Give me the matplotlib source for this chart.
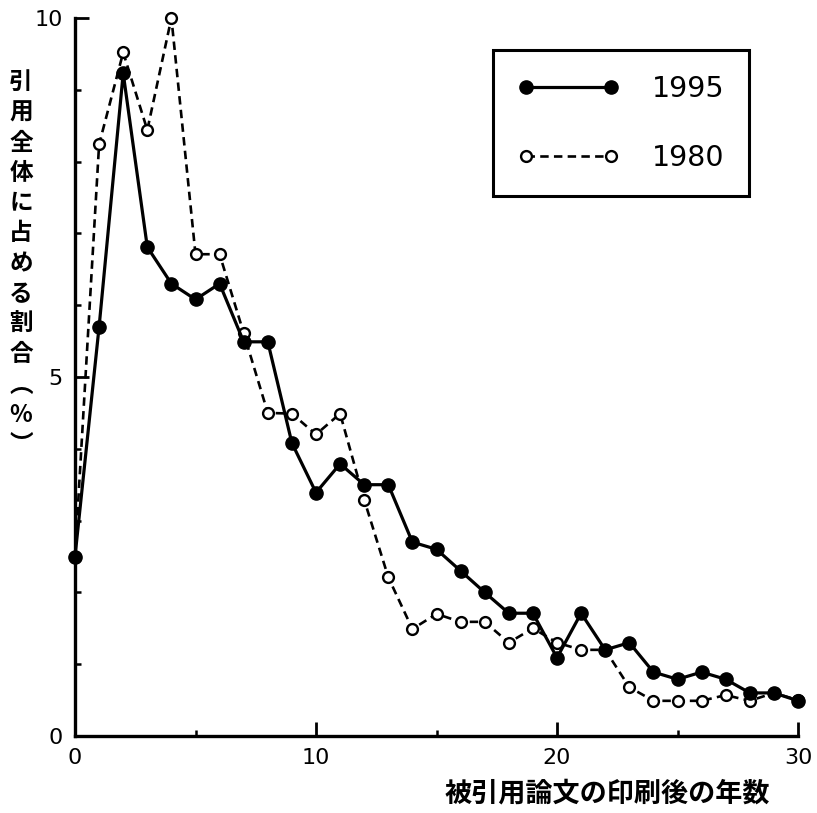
import matplotlib
matplotlib.use("Agg")
import matplotlib.pyplot as plt

years = list(range(31))
share_1995 = [2.5, 5.7, 9.23, 6.81, 6.3, 6.08, 6.3, 5.49, 5.49, 4.08, 3.39, 3.79, 3.5, 3.5,
              2.7, 2.6, 2.3, 2.0, 1.71, 1.71, 1.09, 1.71, 1.2, 1.3, 0.89, 0.79, 0.89, 0.79,
              0.6, 0.6, 0.49]
share_1980 = [2.5, 8.24, 9.52, 8.44, 10.0, 6.71, 6.71, 5.61, 4.5, 4.49, 4.2, 4.49, 3.29, 2.21,
              1.49, 1.7, 1.59, 1.59, 1.3, 1.5, 1.3, 1.2, 1.2, 0.68, 0.49, 0.49, 0.49, 0.57,
              0.49, 0.6, 0.5]
labels = ["1995", "1980"]
ylabel = "引用全体に占める割合（%）"
xlabel = "被引用論文の印刷後の年数"
yticks_major = [0, 5, 10]
xticks_major = [0, 10, 20, 30]

fig = plt.figure(figsize=(8.17, 8.13), dpi=100)
ax = fig.add_axes([75/817, 1-736/813, 723/817, 718/813])

ax.plot(years, share_1995, color="black", lw=2.3, marker="o", ms=9.5,
        mfc="black", mec="black", label=labels[0], clip_on=False, zorder=4)
ax.plot(years, share_1980, color="black", lw=1.9, ls=(0, (3.2, 2)), marker="o", ms=7.8,
        mfc="white", mec="black", mew=1.7, label=labels[1], clip_on=False, zorder=3)

ax.set_xlim(0, 30)
ax.set_ylim(0, 10)
ax.set_xticks(xticks_major)
ax.set_xticks(range(0, 31, 5), minor=True)
ax.set_yticks(yticks_major)
ax.set_yticks(range(0, 11), minor=True)
ax.tick_params(axis="both", which="major", direction="in", length=10, width=2,
               labelsize=16, pad=9)
ax.tick_params(axis="both", which="minor", direction="in", length=4.5, width=1.8)
for s in ["top", "right"]:
    ax.spines[s].set_visible(False)
for s in ["left", "bottom"]:
    ax.spines[s].set_linewidth(2.4)

leg = ax.legend(loc="upper left", bbox_to_anchor=(0.578, 0.955), borderaxespad=0,
                numpoints=2, handlelength=3.6, handletextpad=1.15, labelspacing=1.45,
                borderpad=0.85, fancybox=False, frameon=True, framealpha=1,
                prop={"family": "DejaVu Sans", "size": 20.5})
leg.get_frame().set_edgecolor("black")
leg.get_frame().set_linewidth(2.2)

vert = ylabel.replace("（", "︵").replace("）", "︶")
fig.text(21/817, 1-70/813, "\n".join(vert), ha="center", va="top",
         fontsize=17, fontweight="bold", linespacing=1.33,
         family=["Noto Sans CJK JP", "DejaVu Sans"])
fig.text(770/817, 1-793/813, xlabel, ha="right", va="center", fontsize=19.5,
         fontweight="bold", family=["Noto Sans CJK JP", "DejaVu Sans"])

fig.savefig("out.png", dpi=100)
